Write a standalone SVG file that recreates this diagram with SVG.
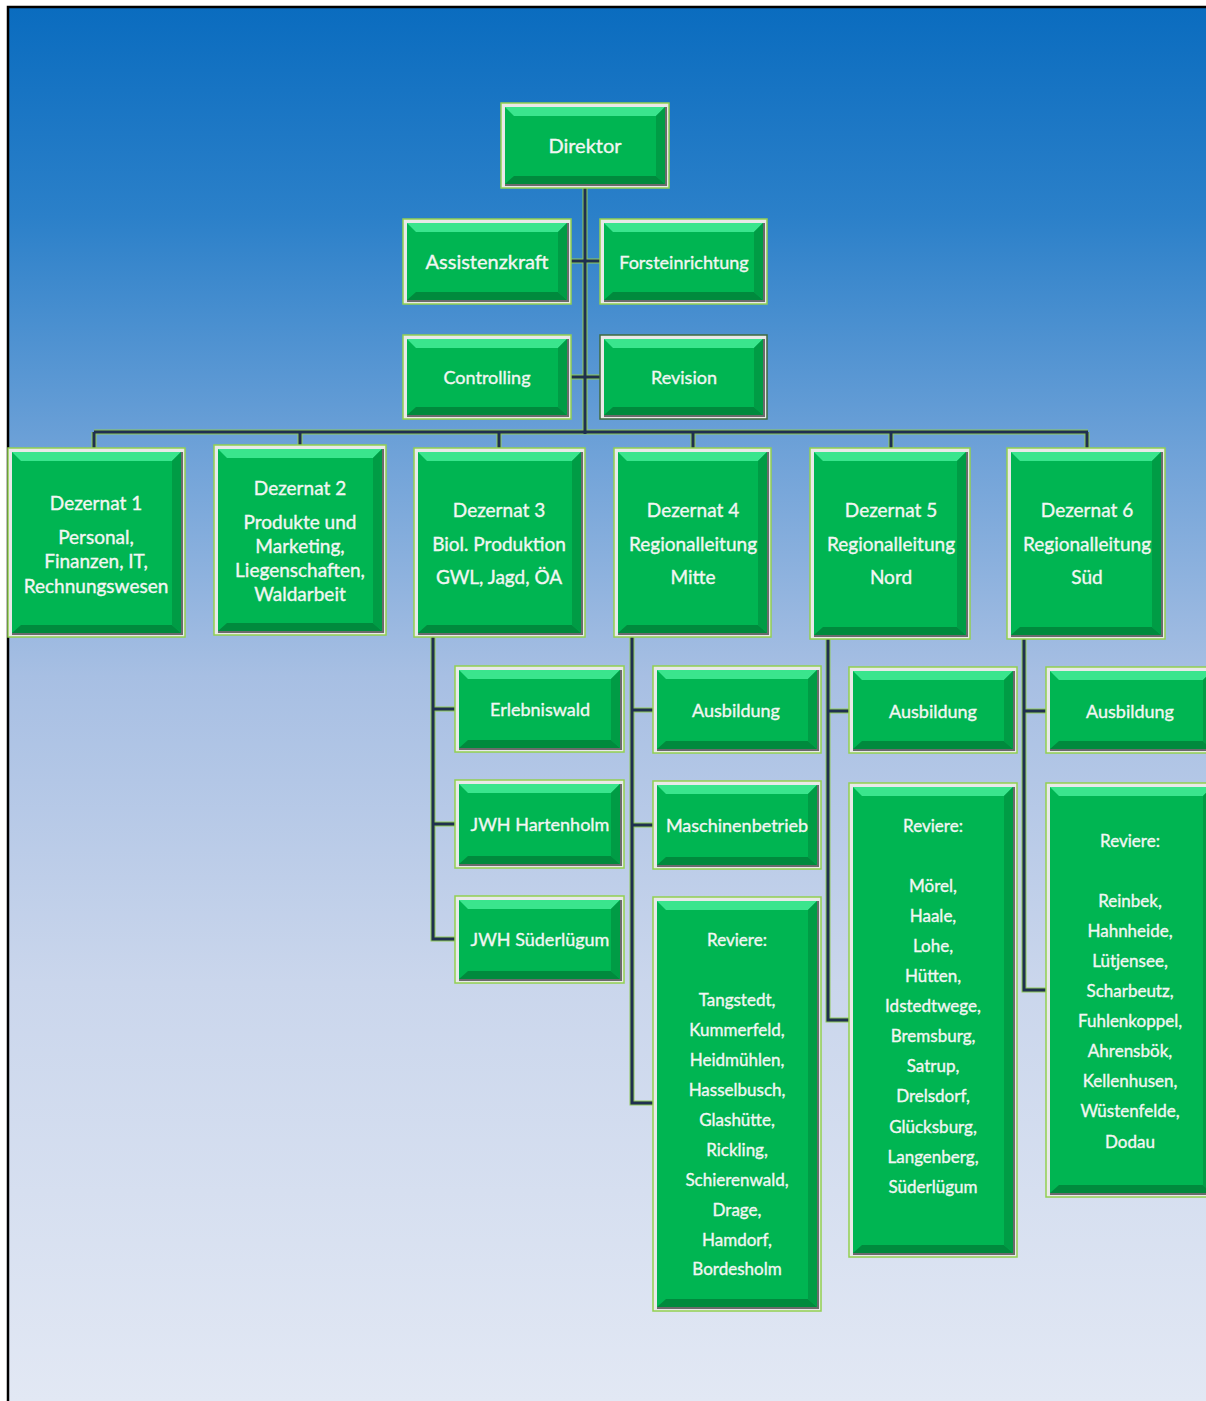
<svg xmlns="http://www.w3.org/2000/svg" width="1206" height="1401" viewBox="0 0 1206 1401">
<defs>
<linearGradient id="bg" x1="0" y1="0" x2="0" y2="1">
<stop offset="0" stop-color="#0a6cbf"/>
<stop offset="0.15" stop-color="#2b80c9"/>
<stop offset="0.32" stop-color="#6fa2d8"/>
<stop offset="0.48" stop-color="#a7bfe3"/>
<stop offset="0.7" stop-color="#cad6ec"/>
<stop offset="1" stop-color="#e2e8f4"/>
</linearGradient>
<style>
.bo{fill:#e9e9e9;stroke:#92d050;stroke-width:1.5}
.bd{fill:#6b6b6b}
.bf{fill:#00b552}
.bt{fill:#3ae58d}
.bb{fill:#008a3d}
.br{fill:#009c45}
.cu{fill:none;stroke:#8fc95a;stroke-width:5;stroke-linejoin:miter}
.co{fill:none;stroke:#1f2f4f;stroke-width:3;stroke-linejoin:miter}
.t{font-family:Lato,"Liberation Sans",sans-serif;fill:#f2f6f2;stroke:#f2f6f2;stroke-width:0.35;text-anchor:middle;dominant-baseline:central}
.s20{font-size:20px}
.s19{font-size:19px}
.s18{font-size:18px}
.s17{font-size:17px}
</style>
<path id="conn" d="M585,188V434 M571,261H600 M571,377H600 M94,432H1088 M94,432V448 M300,432V445 M499,432V448 M693,432V448 M891,432V448 M1087,432V448 M433,637V939H455 M433,709H455 M433,824H455 M632,637V1103H653 M632,710H653 M632,825H653 M828,639V1020H849 M828,711H849 M1024,639V990H1046 M1024,711H1046"/>
</defs>
<rect x="0" y="0" width="1206" height="1401" fill="#ffffff"/>
<rect x="8" y="7" width="1198" height="1394" fill="url(#bg)"/>
<path d="M8,1401V7H1206" fill="none" stroke="#000" stroke-width="2.5"/>

<g id="connectors">
<use href="#conn" class="cu"/>
<use href="#conn" class="co"/>
</g>

<g id="n-direktor">
<rect class="bo" x="501" y="103" width="168" height="85"/><rect class="bd" x="505" y="107" width="162" height="79"/><rect class="bf" x="505" y="107" width="160" height="77"/>
<polygon class="bt" points="505,107 665,107 656,116 514,116"/><polygon class="bb" points="505,184 665,184 656,176 514,176"/><polygon class="br" points="665,107 665,184 656,176 656,116"/>
<text class="t s20" x="585" y="145">Direktor</text>
</g>
<g id="n-assistenz">
<rect class="bo" x="403" y="219" width="168" height="85"/><rect class="bd" x="407" y="223" width="162" height="79"/><rect class="bf" x="407" y="223" width="160" height="77"/>
<polygon class="bt" points="407,223 567,223 558,232 416,232"/><polygon class="bb" points="407,300 567,300 558,292 416,292"/><polygon class="br" points="567,223 567,300 558,292 558,232"/>
<text class="t s20" x="487" y="261">Assistenzkraft</text>
</g>
<g id="n-forst">
<rect class="bo" x="600" y="219" width="167" height="85"/><rect class="bd" x="604" y="223" width="161" height="79"/><rect class="bf" x="604" y="223" width="159" height="77"/>
<polygon class="bt" points="604,223 763,223 754,232 613,232"/><polygon class="bb" points="604,300 763,300 754,292 613,292"/><polygon class="br" points="763,223 763,300 754,292 754,232"/>
<text class="t s18" x="684" y="262">Forsteinrichtung</text>
</g>
<g id="n-controlling">
<rect class="bo" x="403" y="335" width="168" height="84"/><rect class="bd" x="407" y="339" width="162" height="78"/><rect class="bf" x="407" y="339" width="160" height="76"/>
<polygon class="bt" points="407,339 567,339 558,348 416,348"/><polygon class="bb" points="407,415 567,415 558,407 416,407"/><polygon class="br" points="567,339 567,415 558,407 558,348"/>
<text class="t s18" x="487" y="377">Controlling</text>
</g>
<g id="n-revision">
<rect class="bo" x="600" y="335" width="167" height="84" style="stroke:#3f6b3f"/><rect class="bd" x="604" y="339" width="161" height="78"/><rect class="bf" x="604" y="339" width="159" height="76"/>
<polygon class="bt" points="604,339 763,339 754,348 613,348"/><polygon class="bb" points="604,415 763,415 754,407 613,407"/><polygon class="br" points="763,339 763,415 754,407 754,348"/>
<text class="t s18" x="684" y="377">Revision</text>
</g>

<g id="n-d1">
<rect class="bo" x="8" y="448" width="177" height="189"/><rect class="bd" x="12" y="452" width="171" height="183"/><rect class="bf" x="12" y="452" width="169" height="181"/>
<polygon class="bt" points="12,452 181,452 172,461 21,461"/><polygon class="bb" points="12,633 181,633 172,625 21,625"/><polygon class="br" points="181,452 181,633 172,625 172,461"/>
<text class="t s19" x="96"><tspan x="96" y="502">Dezernat 1</tspan><tspan x="96" y="536">Personal,</tspan><tspan x="96" y="560">Finanzen, IT,</tspan><tspan x="96" y="585">Rechnungswesen</tspan></text>
</g>
<g id="n-d2">
<rect class="bo" x="214" y="445" width="172" height="190"/><rect class="bd" x="218" y="449" width="166" height="184"/><rect class="bf" x="218" y="449" width="164" height="182"/>
<polygon class="bt" points="218,449 382,449 373,458 227,458"/><polygon class="bb" points="218,631 382,631 373,623 227,623"/><polygon class="br" points="382,449 382,631 373,623 373,458"/>
<text class="t s19" x="300"><tspan x="300" y="487">Dezernat 2</tspan><tspan x="300" y="521">Produkte und</tspan><tspan x="300" y="545">Marketing,</tspan><tspan x="300" y="569">Liegenschaften,</tspan><tspan x="300" y="593">Waldarbeit</tspan></text>
</g>
<g id="n-d3">
<rect class="bo" x="414" y="448" width="171" height="189"/><rect class="bd" x="418" y="452" width="165" height="183"/><rect class="bf" x="418" y="452" width="163" height="181"/>
<polygon class="bt" points="418,452 581,452 572,461 427,461"/><polygon class="bb" points="418,633 581,633 572,625 427,625"/><polygon class="br" points="581,452 581,633 572,625 572,461"/>
<text class="t s19" x="499"><tspan x="499" y="509">Dezernat 3</tspan><tspan x="499" y="543">Biol. Produktion</tspan><tspan x="499" y="576">GWL,  Jagd, ÖA</tspan></text>
</g>
<g id="n-d4">
<rect class="bo" x="614" y="448" width="157" height="189"/><rect class="bd" x="618" y="452" width="151" height="183"/><rect class="bf" x="618" y="452" width="149" height="181"/>
<polygon class="bt" points="618,452 767,452 758,461 627,461"/><polygon class="bb" points="618,633 767,633 758,625 627,625"/><polygon class="br" points="767,452 767,633 758,625 758,461"/>
<text class="t s19" x="693"><tspan x="693" y="509">Dezernat 4</tspan><tspan x="693" y="543">Regionalleitung</tspan><tspan x="693" y="576">Mitte</tspan></text>
</g>
<g id="n-d5">
<rect class="bo" x="810" y="448" width="160" height="191"/><rect class="bd" x="814" y="452" width="154" height="185"/><rect class="bf" x="814" y="452" width="152" height="183"/>
<polygon class="bt" points="814,452 966,452 957,461 823,461"/><polygon class="bb" points="814,635 966,635 957,627 823,627"/><polygon class="br" points="966,452 966,635 957,627 957,461"/>
<text class="t s19" x="891"><tspan x="891" y="509">Dezernat 5</tspan><tspan x="891" y="543">Regionalleitung</tspan><tspan x="891" y="576">Nord</tspan></text>
</g>
<g id="n-d6">
<rect class="bo" x="1007" y="448" width="158" height="191"/><rect class="bd" x="1011" y="452" width="152" height="185"/><rect class="bf" x="1011" y="452" width="150" height="183"/>
<polygon class="bt" points="1011,452 1161,452 1152,461 1020,461"/><polygon class="bb" points="1011,635 1161,635 1152,627 1020,627"/><polygon class="br" points="1161,452 1161,635 1152,627 1152,461"/>
<text class="t s19" x="1087"><tspan x="1087" y="509">Dezernat 6</tspan><tspan x="1087" y="543">Regionalleitung</tspan><tspan x="1087" y="576">Süd</tspan></text>
</g>

<g id="n-erlebniswald">
<rect class="bo" x="455" y="666" width="169" height="86"/><rect class="bd" x="459" y="670" width="163" height="80"/><rect class="bf" x="459" y="670" width="161" height="78"/>
<polygon class="bt" points="459,670 620,670 611,679 468,679"/><polygon class="bb" points="459,748 620,748 611,740 468,740"/><polygon class="br" points="620,670 620,748 611,740 611,679"/>
<text class="t s18" x="540" y="709">Erlebniswald</text>
</g>
<g id="n-hartenholm">
<rect class="bo" x="455" y="780" width="169" height="88"/><rect class="bd" x="459" y="784" width="163" height="82"/><rect class="bf" x="459" y="784" width="161" height="80"/>
<polygon class="bt" points="459,784 620,784 611,793 468,793"/><polygon class="bb" points="459,864 620,864 611,856 468,856"/><polygon class="br" points="620,784 620,864 611,856 611,793"/>
<text class="t s18" x="540" y="824">JWH Hartenholm</text>
</g>
<g id="n-suederluegum">
<rect class="bo" x="455" y="896" width="169" height="87"/><rect class="bd" x="459" y="900" width="163" height="81"/><rect class="bf" x="459" y="900" width="161" height="79"/>
<polygon class="bt" points="459,900 620,900 611,909 468,909"/><polygon class="bb" points="459,979 620,979 611,971 468,971"/><polygon class="br" points="620,900 620,979 611,971 611,909"/>
<text class="t s18" x="540" y="939">JWH Süderlügum</text>
</g>

<g id="n-ausb-mitte">
<rect class="bo" x="653" y="666" width="168" height="87"/><rect class="bd" x="657" y="670" width="162" height="81"/><rect class="bf" x="657" y="670" width="160" height="79"/>
<polygon class="bt" points="657,670 817,670 808,679 666,679"/><polygon class="bb" points="657,749 817,749 808,741 666,741"/><polygon class="br" points="817,670 817,749 808,741 808,679"/>
<text class="t s18" x="736" y="710">Ausbildung</text>
</g>
<g id="n-maschinen">
<rect class="bo" x="653" y="781" width="168" height="88"/><rect class="bd" x="657" y="785" width="162" height="82"/><rect class="bf" x="657" y="785" width="160" height="80"/>
<polygon class="bt" points="657,785 817,785 808,794 666,794"/><polygon class="bb" points="657,865 817,865 808,857 666,857"/><polygon class="br" points="817,785 817,865 808,857 808,794"/>
<text class="t s18" x="737" y="825">Maschinenbetrieb</text>
</g>
<g id="n-reviere-mitte">
<rect class="bo" x="653" y="897" width="168" height="414"/><rect class="bd" x="657" y="901" width="162" height="408"/><rect class="bf" x="657" y="901" width="160" height="406"/>
<polygon class="bt" points="657,901 817,901 808,910 666,910"/><polygon class="bb" points="657,1307 817,1307 808,1299 666,1299"/><polygon class="br" points="817,901 817,1307 808,1299 808,910"/>
<text class="t s17" x="737"><tspan x="737" y="939">Reviere:</tspan><tspan x="737" y="999">Tangstedt,</tspan><tspan x="737" y="1029">Kummerfeld,</tspan><tspan x="737" y="1059">Heidmühlen,</tspan><tspan x="737" y="1089">Hasselbusch,</tspan><tspan x="737" y="1119">Glashütte,</tspan><tspan x="737" y="1149">Rickling,</tspan><tspan x="737" y="1179">Schierenwald,</tspan><tspan x="737" y="1209">Drage,</tspan><tspan x="737" y="1239">Hamdorf,</tspan><tspan x="737" y="1268">Bordesholm</tspan></text>
</g>

<g id="n-ausb-nord">
<rect class="bo" x="849" y="667" width="168" height="86"/><rect class="bd" x="853" y="671" width="162" height="80"/><rect class="bf" x="853" y="671" width="160" height="78"/>
<polygon class="bt" points="853,671 1013,671 1004,680 862,680"/><polygon class="bb" points="853,749 1013,749 1004,741 862,741"/><polygon class="br" points="1013,671 1013,749 1004,741 1004,680"/>
<text class="t s18" x="933" y="711">Ausbildung</text>
</g>
<g id="n-reviere-nord">
<rect class="bo" x="849" y="783" width="168" height="474"/><rect class="bd" x="853" y="787" width="162" height="468"/><rect class="bf" x="853" y="787" width="160" height="466"/>
<polygon class="bt" points="853,787 1013,787 1004,796 862,796"/><polygon class="bb" points="853,1253 1013,1253 1004,1245 862,1245"/><polygon class="br" points="1013,787 1013,1253 1004,1245 1004,796"/>
<text class="t s17" x="933"><tspan x="933" y="825">Reviere:</tspan><tspan x="933" y="885">Mörel,</tspan><tspan x="933" y="915">Haale,</tspan><tspan x="933" y="945">Lohe,</tspan><tspan x="933" y="975">Hütten,</tspan><tspan x="933" y="1005">Idstedtwege,</tspan><tspan x="933" y="1035">Bremsburg,</tspan><tspan x="933" y="1065">Satrup,</tspan><tspan x="933" y="1095">Drelsdorf,</tspan><tspan x="933" y="1126">Glücksburg,</tspan><tspan x="933" y="1156">Langenberg,</tspan><tspan x="933" y="1186">Süderlügum</tspan></text>
</g>

<g id="n-ausb-sued">
<rect class="bo" x="1046" y="667" width="170" height="86"/><rect class="bd" x="1050" y="671" width="164" height="80"/><rect class="bf" x="1050" y="671" width="162" height="78"/>
<polygon class="bt" points="1050,671 1212,671 1203,680 1059,680"/><polygon class="bb" points="1050,749 1212,749 1203,741 1059,741"/><polygon class="br" points="1212,671 1212,749 1203,741 1203,680"/>
<text class="t s18" x="1130" y="711">Ausbildung</text>
</g>
<g id="n-reviere-sued">
<rect class="bo" x="1046" y="783" width="170" height="414"/><rect class="bd" x="1050" y="787" width="164" height="408"/><rect class="bf" x="1050" y="787" width="162" height="406"/>
<polygon class="bt" points="1050,787 1212,787 1203,796 1059,796"/><polygon class="bb" points="1050,1193 1212,1193 1203,1185 1059,1185"/><polygon class="br" points="1212,787 1212,1193 1203,1185 1203,796"/>
<text class="t s17" x="1130"><tspan x="1130" y="840">Reviere:</tspan><tspan x="1130" y="900">Reinbek,</tspan><tspan x="1130" y="930">Hahnheide,</tspan><tspan x="1130" y="960">Lütjensee,</tspan><tspan x="1130" y="990">Scharbeutz,</tspan><tspan x="1130" y="1020">Fuhlenkoppel,</tspan><tspan x="1130" y="1050">Ahrensbök,</tspan><tspan x="1130" y="1080">Kellenhusen,</tspan><tspan x="1130" y="1110">Wüstenfelde,</tspan><tspan x="1130" y="1141">Dodau</tspan></text>
</g>
</svg>
